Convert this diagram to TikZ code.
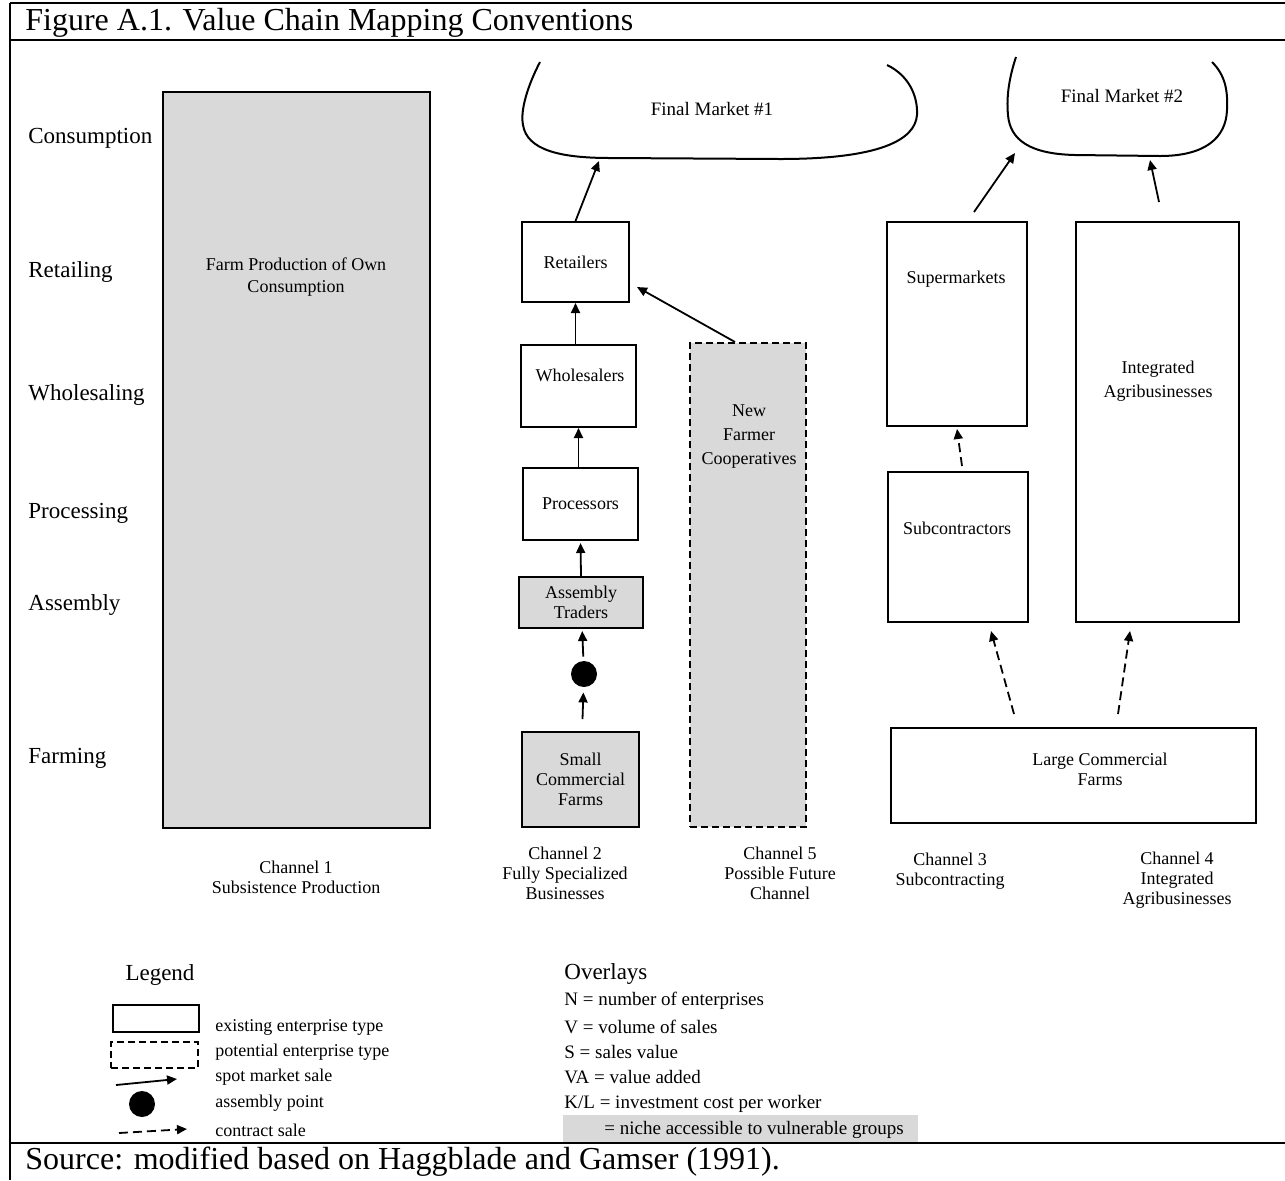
\documentclass[tikz,border=0pt]{standalone}
\usepackage{fontspec}
\setmainfont{Liberation Serif}
\usetikzlibrary{arrows.meta,positioning}
\definecolor{nichegray}{RGB}{217,217,217}

\begin{document}
\begin{tikzpicture}[x=0.5pt,y=-0.5pt,
  box/.style={draw,line width=1pt,inner sep=0pt,align=center,font=\fontsize{9}{10}\selectfont},
  gbox/.style={box,fill=nichegray},
  pbox/.style={gbox,dash pattern=on 3.5pt off 2pt},
  txt/.style={align=center,font=\fontsize{9}{10}\selectfont,inner sep=0pt},
  lvl/.style={anchor=west,font=\fontsize{11.5}{13}\selectfont,inner sep=0pt},
  lgd/.style={anchor=west,font=\fontsize{9}{10}\selectfont,inner sep=0pt},
  spot/.style={-{Triangle[length=5pt,width=4.5pt]},line width=0.9pt},
  contract/.style={spot,dash pattern=on 4.5pt off 2.5pt},
  frame/.style={line width=1.3pt}]
\useasboundingbox (0,0) rectangle (1285,1180);

% frame and title
\draw[frame] (10,3) -- (1285,3);
\draw[frame] (10,40) -- (1285,40);
\draw[frame] (10,1143) -- (1285,1143);
\draw[frame] (10,3) -- (10,1180);
\node[anchor=west,inner sep=0pt,font=\fontsize{16}{18}\selectfont] (title) at (25,23) {Figure A.1. Value Chain Mapping Conventions};
\node[anchor=west,inner sep=0pt,font=\fontsize{16}{18}\selectfont] (source) at (25,1162) {Source: modified based on Haggblade and Gamser (1991).};

% stages
\foreach \y/\t in {138/Consumption,272/Retailing,395/Wholesaling,513/Processing,605/Assembly,758/Farming}
  \node[lvl] (lv\y) at (28,\y) {\t};

% channel 1
\node[gbox,minimum width=133.5pt,minimum height=368pt] (ch1) at (296.5,460) {};
\node[txt,font=\fontsize{9}{11}\selectfont] (ch1txt) at (296,277) {Farm Production of Own\\Consumption};

% final markets
\draw[line width=1pt] (540,62) .. controls (528,85) and (520,110) .. (523,125)
  .. controls (527,150) and (560,158) .. (610,158) -- (780,159)
  .. controls (880,159) and (915,140) .. (917,115)
  .. controls (918,95) and (908,75) .. (887,65);
\node[txt,font=\fontsize{9.5}{11}\selectfont] (fm1) at (712,109) {Final Market \#1};
\coordinate (fm1b) at (599,161);
\draw[line width=1pt] (1016,57) .. controls (1010,75) and (1006,95) .. (1008,115)
  .. controls (1010,140) and (1030,154) .. (1075,155) -- (1160,156)
  .. controls (1205,156) and (1226,138) .. (1227,110)
  .. controls (1228,90) and (1225,75) .. (1212,62);
\node[txt,font=\fontsize{9.5}{11}\selectfont] (fm2) at (1122,96) {Final Market \#2};
\coordinate (fm2a) at (1015,153);
\coordinate (fm2b) at (1150,160);

% channel 2
\node[box,minimum width=53.5pt,minimum height=40pt] (ret) at (575.5,262) {Retailers};
\node[box,minimum width=57.5pt,minimum height=41pt] (who) at (578.5,386) {};
\node[txt] (whotxt) at (580,375) {Wholesalers};
\node[box,minimum width=57.5pt,minimum height=36pt] (pro) at (580.5,504) {Processors};
\node[gbox,minimum width=62pt,minimum height=25.5pt] (asm) at (581,602.5) {Assembly\\Traders};
\node[circle,fill,inner sep=0pt,minimum size=13pt] (dot) at (584,674) {};
\node[gbox,minimum width=58.5pt,minimum height=47.5pt] (smf) at (580.5,779.5) {Small\\Commercial\\Farms};

\draw[spot] (ret.north) -- (fm1b);
\draw[spot] (ret.south |- who.north) -- (ret.south);
\draw[spot] (who.south |- pro.north) -- (who.south);
\draw[spot,shorten >=1pt] (asm.north) -- (pro.south);
\draw[spot,shorten <=2pt,shorten >=1pt] (dot) -- (asm);
\draw[spot,shorten <=6pt,shorten >=2.5pt] (smf) -- (dot);

% channel 5
\node[pbox,minimum width=58pt,minimum height=242pt] (coop) at (748,585) {};
\node[txt,font=\fontsize{9}{12}\selectfont] (cooptxt) at (749,437) {New\\Farmer\\Cooperatives};
\draw[spot] ([xshift=-6.5pt]coop.north) -- ([xshift=3.5pt,yshift=-12.5pt]ret.east);

% channels 3 and 4
\node[box,minimum width=70pt,minimum height=102pt] (sup) at (957,324) {};
\node[txt] (suptxt) at (956,279) {Supermarkets};
\node[box,minimum width=70pt,minimum height=75pt] (sub) at (958,547) {};
\node[txt] (subtxt) at (957,528) {Subcontractors};
\node[box,minimum width=81.5pt,minimum height=200pt] (integ) at (1157.5,422) {};
\node[txt,font=\fontsize{9}{12}\selectfont] (integtxt) at (1158,381) {Integrated\\Agribusinesses};
\node[box,minimum width=182.5pt,minimum height=47.5pt] (lcf) at (1073.5,775.5) {};
\node[txt] (lcftxt) at (1100,769) {Large Commercial\\Farms};

\draw[spot] ([xshift=8.5pt,yshift=4.5pt]sup.north) -- (fm2a);
\draw[spot] ([xshift=0.75pt,yshift=9.5pt]integ.north) -- (fm2b);
\draw[contract] ([xshift=2pt,yshift=2.5pt]sub.north) -- ([yshift=-1pt]sup.south);
\draw[contract] ([xshift=-29.75pt,yshift=6.5pt]lcf.north) -- ([xshift=16.5pt,yshift=-4pt]sub.south);
\draw[contract] ([xshift=22.25pt,yshift=6.5pt]lcf.north) -- ([xshift=-13.75pt,yshift=-4pt]integ.south);

% channel names
\node[txt] (c1) at (296,877) {Channel 1\\Subsistence Production};
\node[txt] (c2) at (565,873) {Channel 2\\Fully Specialized\\Businesses};
\node[txt] (c5) at (780,873) {Channel 5\\Possible Future\\Channel};
\node[txt] (c3) at (950,871) {Channel 3\\Subcontracting};
\node[txt] (c4) at (1177,880) {Channel 4\\Integrated\\Agribusinesses};

% legend
\node[inner sep=0pt,font=\fontsize{11.5}{13}\selectfont] (lgd) at (160,975) {Legend};
\node[box,minimum width=43pt,minimum height=13.5pt] (lgex) at (156,1018.5) {};
\node[box,dash pattern=on 3.5pt off 2pt,minimum width=43.5pt,minimum height=13pt] (lgpo) at (154.5,1055) {};
\coordinate (lgs1) at (116,1085);
\coordinate (lgs2) at (177,1079);
\draw[spot] (lgs1) -- (lgs2);
\node[circle,fill,inner sep=0pt,minimum size=13pt] (lgdot) at (142,1104) {};
\coordinate (lgc1) at (119,1133);
\coordinate (lgc2) at (187,1129);
\draw[contract] (lgc1) -- (lgc2);
\foreach \y/\t in {1027/existing enterprise type,1052/potential enterprise type,1077/spot market sale,1103/assembly point,1130/contract sale}
  \node[lgd] (lg\y) at (215,\y) {\t};

% overlays
\node[lvl] (ovl) at (564,974) {Overlays};
\fill[nichegray] (563,1115) rectangle (918,1142);
\foreach \y/\t in {1001/{N = number of enterprises},1027/{V = volume of sales},1052/{S = sales value},1077/{VA = value added},1104/{K/L = investment cost per worker},1130/{\hspace*{20pt}= niche accessible to vulnerable groups}}
  \node[lgd,font=\fontsize{9.5}{11}\selectfont] (ov\y) at (564,\y) {\t};
\end{tikzpicture}
\end{document}
